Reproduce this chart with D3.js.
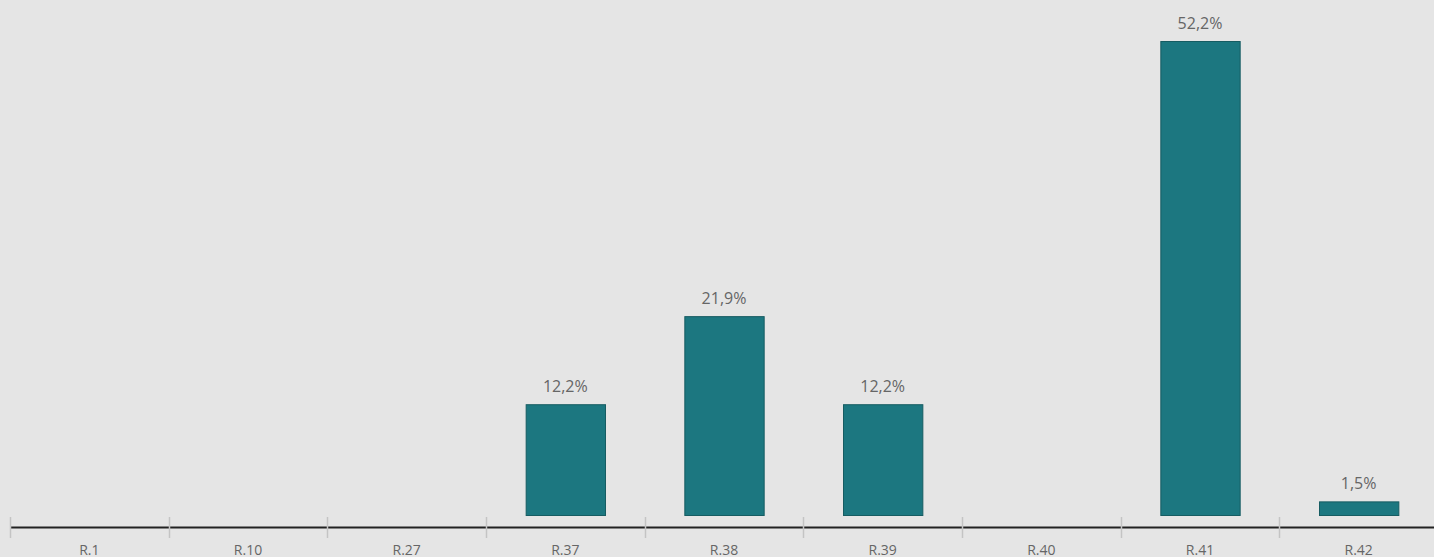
<!DOCTYPE html>
<html lang="en">
<head>
    <meta charset="UTF-8">
    <title>Bars</title>
    <script src="https://d3js.org/d3.v7.min.js"></script>
    <style>
        html, body { margin: 0; padding: 0; background: #e5e5e5; overflow: hidden; }
        text { font-family: "Open Sans", sans-serif; }
    </style>
</head>
<body>

<script>

    var categories = ["R.1", "R.10", "R.27", "R.37", "R.38", "R.39", "R.40", "R.41", "R.42"];
    var values = [0, 0, 0, 12.2, 21.9, 12.2, 0, 52.2, 1.5];

    var xSize = 1434;
    var ySize = 557;

    var svg = d3.select("body")
        .append("svg")
        .attr("width", xSize)
        .attr("height", ySize);

    svg.append("rect").attr("width", xSize).attr("height", ySize).attr("fill", "#e5e5e5");

    var xScale = d3.scaleBand().domain(categories).range([10, 1438]).paddingInner(0.5).paddingOuter(0.25);
    var bandScale = d3.scaleBand().domain(categories).range([10, 1438]);
    var yScale = d3.scaleLinear().domain([0, 52.2]).range([515, 41]);

    var data = categories.map(function (c, i) { return { cat: c, val: values[i] }; });

    // axis line
    svg.append("line")
        .attr("x1", 10).attr("x2", xSize)
        .attr("y1", 527.5).attr("y2", 527.5)
        .attr("stroke", "#222").attr("stroke-width", 2);

    // tick separators
    var tickPos = categories.map(function (c) { return bandScale(c); });
    tickPos.push(1438);
    svg.selectAll(".tick").data(tickPos).enter().append("line")
        .attr("x1", function (d) { return Math.round(d) + 0.5; })
        .attr("x2", function (d) { return Math.round(d) + 0.5; })
        .attr("y1", 517).attr("y2", 538)
        .attr("stroke", "#c4c4c4").attr("stroke-width", 1.5);

    var bars = data.filter(function (d) { return d.val > 0; });

    svg.selectAll(".bar").data(bars).enter().append("rect")
        .attr("x", function (d) { return xScale(d.cat) + 0.5; })
        .attr("y", function (d) { return yScale(d.val) + 0.5; })
        .attr("width", xScale.bandwidth())
        .attr("height", function (d) { return yScale(0) - yScale(d.val); })
        .attr("fill", "#1c7780")
        .attr("stroke", "#165c62")
        .attr("stroke-width", 1);

    svg.selectAll(".lbl").data(bars).enter().append("text")
        .attr("x", function (d) { return xScale(d.cat) + xScale.bandwidth() / 2; })
        .attr("y", function (d) { return yScale(d.val) - 12; })
        .attr("text-anchor", "middle")
        .attr("font-size", 16)
        .attr("fill", "#666")
        .text(function (d) { return d3.format(".1f")(d.val).replace(".", ",") + "%"; });

    svg.selectAll(".cat").data(categories).enter().append("text")
        .attr("x", function (d) { return bandScale(d) + bandScale.bandwidth() / 2; })
        .attr("y", 555)
        .attr("text-anchor", "middle")
        .attr("font-size", 14)
        .attr("fill", "#666")
        .text(function (d) { return d; });

</script>

</body>
</html>
